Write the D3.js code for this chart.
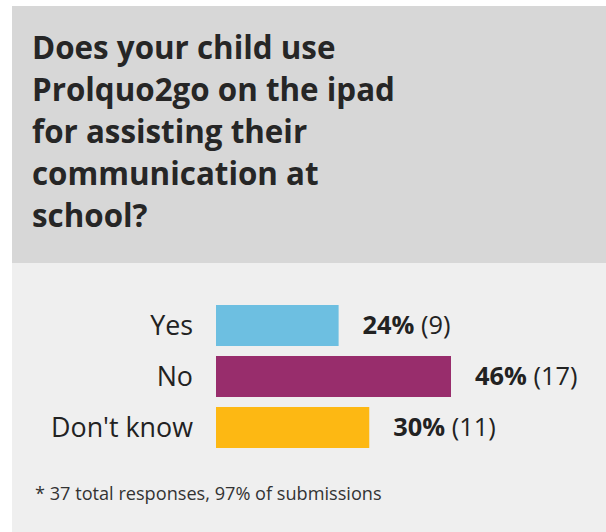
<!DOCTYPE html>
<html>
<head>
<meta charset="utf-8">
<script src="https://cdn.jsdelivr.net/npm/d3@7"></script>
<style>
  html, body { margin: 0; padding: 0; background: #ffffff; }
  svg { display: block; }
</style>
</head>
<body>
<svg id="chart" width="606" height="532"></svg>
<script>
const titleLines = ["Does your child use", "Prolquo2go on the ipad", "for assisting their", "communication at", "school?"];
const categories = ["Yes", "No", "Don't know"];
const percents = [24, 46, 30];
const counts = [9, 17, 11];
const colors = ["#6dbfe1", "#982d6c", "#fdb813"];
const footnote = "* 37 total responses, 97% of submissions";

const W = 606, H = 532;
const svg = d3.select("#chart");
const font = "'Open Sans', 'Noto Sans', sans-serif";

// panel backgrounds
svg.append("rect").attr("x", 12).attr("y", 6).attr("width", W - 12).attr("height", H - 6).attr("fill", "#efefef");
svg.append("rect").attr("x", 12).attr("y", 6).attr("width", W - 12).attr("height", 257).attr("fill", "#d7d7d7");

function fitSize(sel, target, start) {
  sel.attr("font-size", start);
  const w = sel.node().getComputedTextLength();
  const s = start * target / w;
  sel.attr("font-size", s);
  return s;
}

// title
const tg = svg.append("g").attr("font-family", font).attr("font-weight", 700).attr("fill", "#262626");
const probe = tg.append("text").text(titleLines[1]);
const tSize = fitSize(probe, 363, 28);
probe.remove();
tg.selectAll("text").data(titleLines).join("text")
  .attr("x", 32)
  .attr("y", (d, i) => 59 + i * 42)
  .attr("font-size", tSize)
  .text(d => d);

// bars
const x = d3.scaleLinear().domain([0, 46]).range([216, 451]);
const y = d3.scaleBand().domain(categories).range([305, 448]).paddingInner(0.196).paddingOuter(0);

svg.append("g").selectAll("rect").data(categories).join("rect")
  .attr("x", x(0))
  .attr("y", d => y(d))
  .attr("width", (d, i) => x(percents[i]) - x(0))
  .attr("height", y.bandwidth())
  .attr("fill", (d, i) => colors[i]);

// category labels
const cg = svg.append("g").attr("font-family", font).attr("fill", "#222");
const cprobe = cg.append("text").text("Don't know");
const cSize = fitSize(cprobe, 142, 24);
cprobe.remove();
cg.selectAll("text").data(categories).join("text")
  .attr("x", 193)
  .attr("y", d => y(d) + y.bandwidth() / 2)
  .attr("dy", "0.35em")
  .attr("text-anchor", "end")
  .attr("font-size", cSize)
  .text(d => d);

// value labels
const vg = svg.append("g").attr("font-family", font).attr("fill", "#222");
const vprobe = vg.append("text");
vprobe.append("tspan").attr("font-weight", 700).text("24%");
vprobe.append("tspan").text(" (9)");
const vSize = fitSize(vprobe, 88, 20);
vprobe.remove();
const vt = vg.selectAll("text").data(categories).join("text")
  .attr("x", (d, i) => x(percents[i]) + 24)
  .attr("y", d => y(d) + y.bandwidth() / 2)
  .attr("dy", "0.35em")
  .attr("font-size", vSize);
vt.append("tspan").attr("font-weight", 700).text((d, i) => percents[i] + "%");
vt.append("tspan").text((d, i) => " (" + counts[i] + ")");

// footnote
const fn = svg.append("text").attr("font-family", font).attr("fill", "#333")
  .attr("x", 35).attr("y", 500).text(footnote);
fitSize(fn, 347, 14);
</script>
</body>
</html>
